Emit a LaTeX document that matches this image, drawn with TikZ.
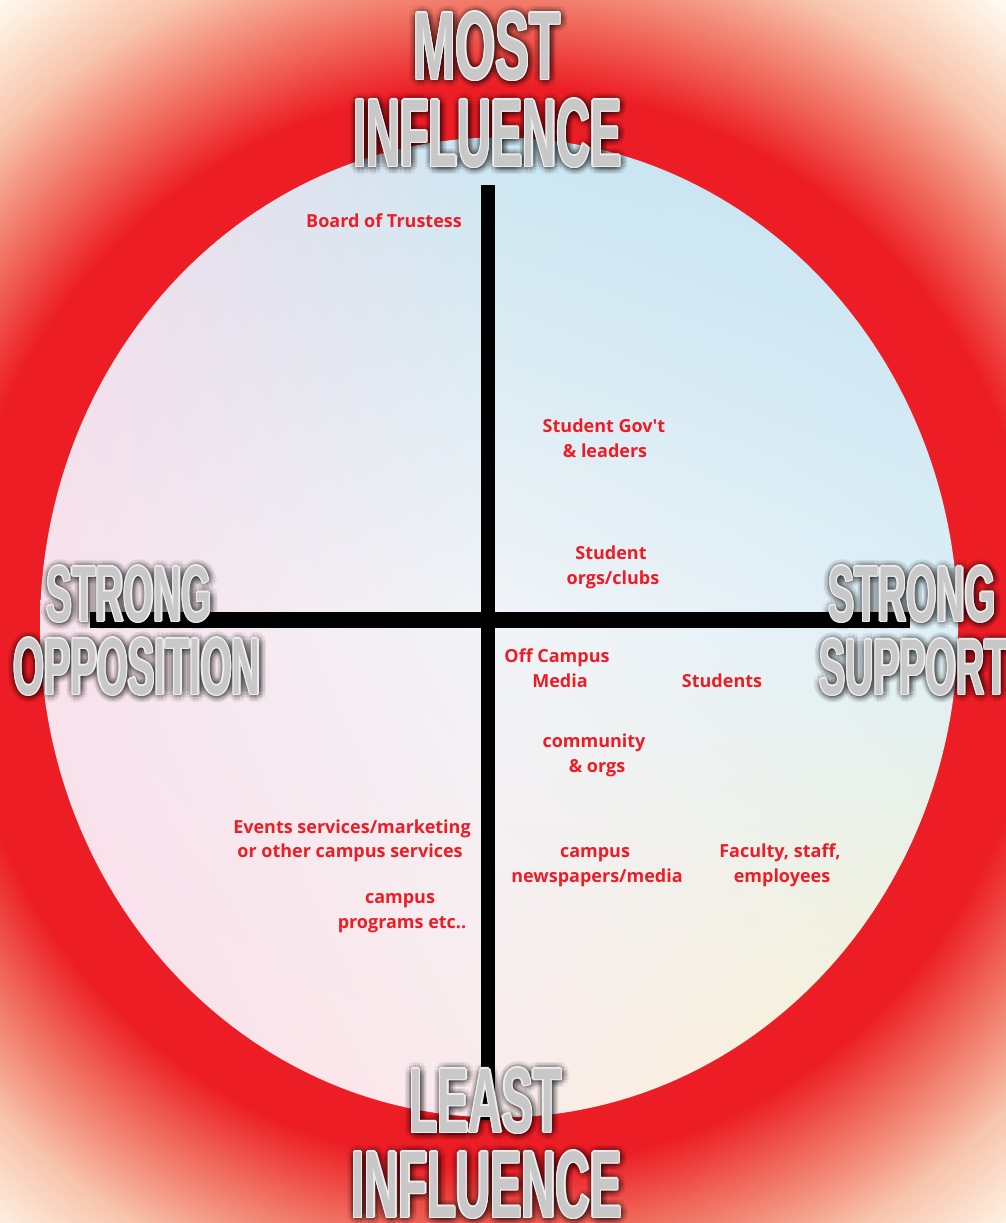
\documentclass[tikz,border=0pt]{standalone}
\usepackage{fontspec}
\usepackage{graphicx}
\usetikzlibrary{shadings}
\setmainfont{Open Sans}
\newfontfamily\bigfontfam{Liberation Sans}
\definecolor{labred}{HTML}{EE1C25}
\definecolor{glowred}{HTML}{EC1C24}
\definecolor{glowa}{HTML}{F06A5C}
\definecolor{glowb}{HTML}{F49C88}
\definecolor{glowc}{HTML}{F8C4AC}
\definecolor{glowd}{HTML}{FCE5D3}
\definecolor{glowe}{HTML}{FFF9F0}
\definecolor{bigfill}{HTML}{C8C8C8}
\definecolor{bigedge}{HTML}{EDEDED}
\definecolor{cC}{HTML}{F1F4F7}
\definecolor{cT}{HTML}{CBE6F1}
\definecolor{cR}{HTML}{DDEFF6}
\definecolor{cB}{HTML}{FAEBEC}
\definecolor{cL}{HTML}{F8E2EC}
\definecolor{cTL}{HTML}{F1DCEB}
\definecolor{cTR}{HTML}{C2E2F3}
\definecolor{cBR}{HTML}{FBF4CC}
\definecolor{cBL}{HTML}{FBDCE7}
\newsavebox\bigbox
\newcommand\bigplain[3]{\sbox\bigbox{\resizebox{#1pt}{#2pt}{\bigfontfam\bfseries #3}}\usebox\bigbox}
\tikzset{
  lab/.style={text=labred, font=\fontsize{18}{25}\selectfont\bfseries, inner sep=0pt, anchor=base},
  axisbar/.style={draw=black, line cap=butt},
  bigshadow/.style={text=black, text opacity=0.055, inner sep=0pt, anchor=base},
  bigedgest/.style={text=bigedge, text opacity=1, inner sep=0pt, anchor=base},
  bigfillst/.style={text=bigfill, text opacity=1, inner sep=0pt, anchor=base}
}
\newcommand\biglab[6]{%
  \node[bigshadow] (#1-sh0) at ({#2+1},{#3+1}) {\bigplain{#4}{#5}{#6}};
  \foreach \ang [count=\i] in {0,30,...,330}{%
    \foreach \rad [count=\j] in {2.5,5,7.5}{%
      \node[bigshadow] (#1-sh\i-\j) at ({#2+1+\rad*cos(\ang)},{#3+1+\rad*sin(\ang)}) {\bigplain{#4}{#5}{#6}};
    }}%
  \foreach \dx/\dy [count=\i] in {-1.4/0,1.4/0,0/-1.4,0/1.4,-1/-1,1/-1,-1/1,1/1}{%
    \node[bigedgest] (#1-e\i) at ({#2+\dx},{#3+\dy}) {\bigplain{#4}{#5}{#6}};
  }%
  \node[bigfillst] (#1) at (#2,#3) {\bigplain{#4}{#5}{#6}};
}
\newcommand\glowseg[4]{%
  \foreach \r in {#1}{%
    \pgfmathsetmacro\pct{100*(#2-\r)/(#2-#3)}%
    \fill[#4!\pct!glowtmp] (glowctr) circle [radius=\r];
  }}
\begin{document}
\begin{tikzpicture}[x=1pt,y=-1pt]
\useasboundingbox (0,0) rectangle (1006,1223);
\coordinate (glowctr) at (499,627);
% background glow
\begin{scope}
  \clip (0,0) rectangle (1006,1223);
  \fill[glowe] (0,0) rectangle (1006,1223);
  \colorlet{glowtmp}{glowe}\glowseg{800,797,...,761}{800}{760}{glowd}
  \colorlet{glowtmp}{glowd}\glowseg{760,757,...,701}{760}{700}{glowc}
  \colorlet{glowtmp}{glowc}\glowseg{700,697,...,661}{700}{660}{glowb}
  \colorlet{glowtmp}{glowb}\glowseg{660,657,...,611}{660}{610}{glowa}
  \colorlet{glowtmp}{glowa}\glowseg{610,607,...,540}{610}{540}{glowred}
\end{scope}
% central disc, four bilinear quadrants
\begin{scope}
  \clip (499,627.5) ellipse [x radius=459, y radius=490];
  \shade[upper left=cTL, upper right=cT, lower left=cL, lower right=cC] (35,132) rectangle (499,627.5);
  \shade[upper left=cT, upper right=cTR, lower left=cC, lower right=cR] (499,132) rectangle (963,627.5);
  \shade[upper left=cL, upper right=cC, lower left=cBL, lower right=cB] (35,627.5) rectangle (499,1123);
  \shade[upper left=cC, upper right=cR, lower left=cB, lower right=cBR] (499,627.5) rectangle (963,1123);
\end{scope}
% axes
\coordinate (vtop) at (488,185);
\coordinate (vbot) at (488,1120);
\coordinate (hleft) at (90,620);
\coordinate (hright) at (910,620);
\draw[axisbar, line width=14pt] (vtop) -- (vbot);
\draw[axisbar, line width=16pt] (hleft) -- (hright);
% stakeholder labels
\node[lab] (board) at (384,227) {Board of Trustess};
\node[lab] (sg1) at (604,432) {Student Gov\textquotesingle t};
\node[lab] (sg2) at (605,457) {\& leaders};
\node[lab] (so1) at (611,559) {Student};
\node[lab] (so2) at (613,584) {orgs/clubs};
\node[lab] (oc1) at (557,662) {Off Campus};
\node[lab] (oc2) at (560,687) {Media};
\node[lab] (stu) at (722,687) {Students};
\node[lab] (co1) at (594,747) {community};
\node[lab] (co2) at (597,772) {\& orgs};
\node[lab] (ev1) at (352,833) {Events services/marketing};
\node[lab] (ev2) at (350,857) {or other campus services};
\node[lab] (cp1) at (400,903) {campus};
\node[lab] (cp2) at (402,928) {programs etc..};
\node[lab] (cn1) at (595,857) {campus};
\node[lab] (cn2) at (597,882) {newspapers/media};
\node[lab] (fa1) at (780,857) {Faculty, staff,};
\node[lab] (fa2) at (782,882) {employees};
% axis titles
\biglab{most}{487}{79}{147}{67}{MOST}
\biglab{inflt}{487.5}{166}{268}{67}{INFLUENCE}
\biglab{strl}{129}{621}{165}{55}{STRONG}
\biglab{opp}{137}{694}{247}{56}{OPPOSITION}
\biglab{strr}{912}{621}{167}{55}{STRONG}
\biglab{sup}{914}{694}{189}{55}{SUPPORT}
\biglab{least}{485.5}{1132}{152}{64}{LEAST}
\biglab{inflb}{486.5}{1217}{270}{66}{INFLUENCE}
\end{tikzpicture}
\end{document}
